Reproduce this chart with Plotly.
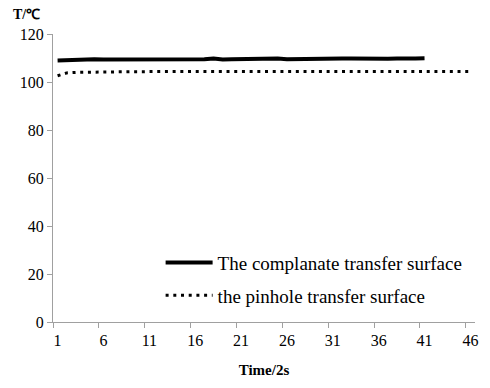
import plotly.graph_objects as go

time_idx = list(range(1, 47))
complanate = [109.0,109.2,109.4,109.2,109.5,109.4,109.4,109.3,109.3,109.5,109.3,109.2,109.5,109.4,109.5,
              109.6,109.5,109.8,109.4,109.5,109.6,109.6,109.6,109.6,109.8,109.5,109.6,109.8,109.6,109.7,
              109.7,109.8,109.8,109.7,109.9,109.6,109.7,109.8,110.0,109.8,109.9]
pinhole = [102.6,103.8,104.0,104.1,104.2,104.2,104.3,104.3,104.3,104.3,104.4,104.4,104.4,104.4,104.4,
           104.4,104.5,104.5,104.4,104.4,104.4,104.4,104.4,104.4,104.4,104.4,104.4,104.4,104.5,104.4,
           104.5,104.5,104.5,104.6,104.7,104.6,104.6,104.4,104.4,104.4,104.4,104.4,104.4,104.4,104.5,104.4]
x_labels = [1, 6, 11, 16, 21, 26, 31, 36, 41, 46]
y_ticks = [0, 20, 40, 60, 80, 100, 120]

font = "Liberation Serif, Times New Roman, serif"

fig = go.Figure()
fig.add_trace(go.Scatter(x=time_idx[:len(complanate)], y=complanate, mode="lines",
                         name="The complanate transfer surface", legendgroup="a",
                         line=dict(color="black", width=4)))
fig.add_trace(go.Scatter(x=time_idx, y=pinhole, mode="lines",
                         name="the pinhole transfer surface", legendgroup="b",
                         line=dict(color="black", width=3, dash="3px,4.7px")))

fig.update_layout(
    width=490, height=388,
    margin=dict(l=53, r=12, t=34, b=60),
    paper_bgcolor="white", plot_bgcolor="white",
    font=dict(family=font, size=16, color="black"),
    showlegend=True,
    legend=dict(x=0.255, y=0.272, xanchor="left", yanchor="top",
                bgcolor="rgba(0,0,0,0)", font=dict(size=19, family=font),
                itemwidth=47, tracegroupgap=5),
    xaxis=dict(range=[0.5, 46.5], tickmode="array", tickvals=x_labels,
               ticktext=[str(v) for v in x_labels], ticks="", showgrid=False,
               showline=True, linecolor="#a0a0a0", linewidth=1, zeroline=False,
               ticklabelstandoff=4,
               minor=dict(tickmode="array", tickvals=[v - 0.5 for v in x_labels],
                          ticks="outside", ticklen=5, tickcolor="#a0a0a0", showgrid=False),
               title=dict(text="<b>Time/2s</b>", font=dict(size=15, family=font), standoff=16),
               tickfont=dict(size=16)),
    yaxis=dict(range=[0, 120], tickmode="array", tickvals=y_ticks, ticks="outside",
               ticklen=5, tickcolor="#a0a0a0", showgrid=False, showline=True,
               linecolor="#a0a0a0", linewidth=1, zeroline=False, tickfont=dict(size=16)),
    annotations=[dict(text="<b>T/℃</b>", xref="paper", yref="paper", x=-0.1, y=1.0,
                      xanchor="left", yanchor="middle", showarrow=False, yshift=20,
                      font=dict(size=14, family=font))],
)

fig.write_html("out.html", config={"displayModeBar": False},
               post_script="document.body.style.margin='0';document.body.style.overflow='hidden';")
